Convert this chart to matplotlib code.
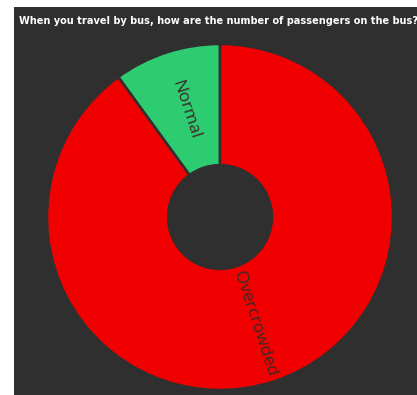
import numpy as np
import matplotlib.pyplot as plt

title = "When you travel by bus, how are the number of passengers on the bus?"
labels = ["Normal", "Overcrowded"]
values = [10, 90]
colors = ["#2ecc71", "#f00000"]

bg = "#2f2f2f"

fig = plt.figure(figsize=(4.17, 3.95), dpi=100)
fig.patch.set_facecolor("white")

# dark panel behind everything
bg_ax = fig.add_axes([14 / 417, 0, 403 / 417, 388 / 395], zorder=-1)
bg_ax.set_facecolor(bg)
bg_ax.set_xticks([])
bg_ax.set_yticks([])
for s in bg_ax.spines.values():
    s.set_visible(False)

fig.text(19 / 417, 1 - 21 / 395, title, color="white", fontsize=7.85,
         fontweight="bold", fontstretch="condensed", family="DejaVu Sans",
         va="center", ha="left")

r_px = 173
cx, cy = 220, 395 - 217
ax = fig.add_axes([(cx - r_px) / 417, (cy - r_px) / 395,
                   2 * r_px / 417, 2 * r_px / 395])
ax.set_facecolor("none")

wedges, _ = ax.pie(values, colors=colors, startangle=90, counterclock=True,
                   radius=1.0,
                   wedgeprops=dict(width=0.7, edgecolor=bg, linewidth=1.8))
ax.set_xlim(-1, 1)
ax.set_ylim(-1, 1)
ax.set_aspect("equal")
ax.axis("off")

# radial labels inside the ring
total = sum(values)
start = 90.0
for lab, v in zip(labels, values):
    span = 360.0 * v / total
    mid = start + span / 2
    start += span
    rad = np.deg2rad(mid)
    r = 0.65
    rot = ((mid + 90) % 180) - 90
    ax.text(r * np.cos(rad), r * np.sin(rad), lab, rotation=rot,
            rotation_mode="anchor", ha="center", va="center",
            fontsize=12.5, family="Open Sans", color="#3a2a2a")

fig.savefig("out.png", dpi=100)
